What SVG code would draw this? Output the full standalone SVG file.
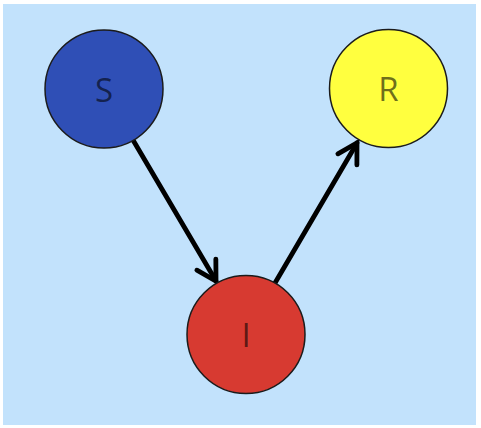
<svg xmlns="http://www.w3.org/2000/svg" width="481" height="428" viewBox="0 0 481 428">
<defs>
<style>
.node circle{stroke:#1b1b1b;stroke-width:1.5}
.node text{font-family:"Open Sans","Liberation Sans",sans-serif;font-size:33px;text-anchor:middle;dominant-baseline:central;fill:#000;fill-opacity:0.58}
.edge{stroke:#000;stroke-width:4.8;fill:none;stroke-linecap:round}
</style>
<marker id="arr" markerUnits="userSpaceOnUse" viewBox="-24 -14 28 28" refX="0" refY="0" markerWidth="28" markerHeight="28" orient="auto">
<path d="M-19,-11 L0,0 L-19,11" fill="none" stroke="#000" stroke-width="4.8" stroke-linecap="round" stroke-linejoin="miter"/>
</marker>
</defs>
<rect x="0" y="0" width="481" height="428" fill="#fff"/>
<rect x="3" y="4" width="473" height="421" fill="#c2e2fc"/>
<g id="connectors">
<line class="edge" x1="133" y1="140" x2="216" y2="281" marker-end="url(#arr)"/>
<line class="edge" x1="275" y1="283" x2="357" y2="143" marker-end="url(#arr)"/>
</g>
<g id="node-S" class="node">
<circle cx="104" cy="89" r="59" fill="#2f4fb6"/>
<text x="104" y="89">S</text>
</g>
<g id="node-R" class="node">
<circle cx="388.5" cy="88.5" r="59" fill="#ffff3f"/>
<text x="388.5" y="88.5">R</text>
</g>
<g id="node-I" class="node">
<circle cx="246" cy="334.5" r="59" fill="#d73a31"/>
<text x="246" y="334.5">I</text>
</g>
</svg>
